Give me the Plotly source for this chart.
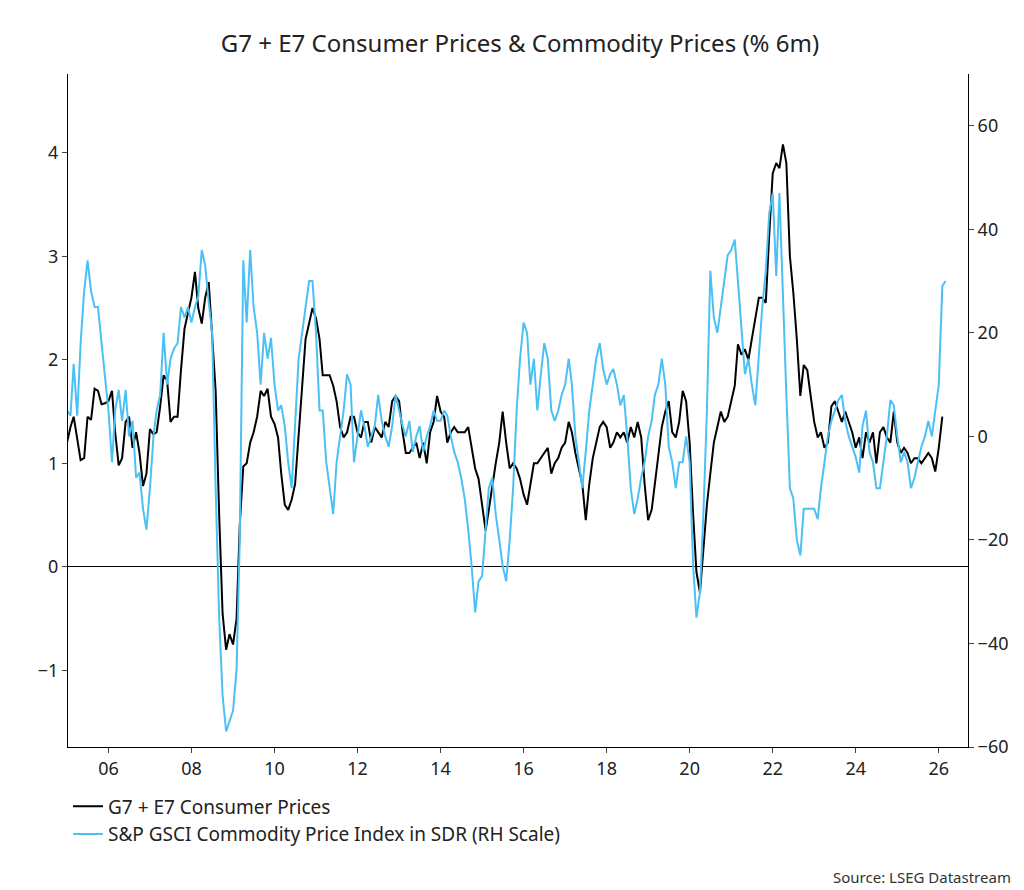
import plotly.graph_objects as go
import pandas as pd

cpi = [1.2,1.35,1.45,1.25,1.03,1.05,1.45,1.42,1.72,1.7,1.57,1.58,
1.6,1.7,1.3,0.98,1.05,1.4,1.45,1.15,1.3,1.1,0.78,0.9,
1.33,1.28,1.3,1.55,1.85,1.8,1.4,1.45,1.45,1.9,2.3,2.45,
2.6,2.85,2.5,2.35,2.6,2.75,2.2,1.7,0.5,-0.45,-0.8,-0.65,
-0.75,-0.5,0.4,0.97,1.0,1.2,1.3,1.45,1.7,1.65,1.72,1.45,
1.38,1.25,0.9,0.6,0.55,0.65,0.8,1.3,1.8,2.2,2.35,2.5,
2.4,2.2,1.85,1.85,1.85,1.75,1.6,1.35,1.25,1.3,1.45,1.45,
1.3,1.25,1.4,1.4,1.2,1.35,1.3,1.25,1.4,1.35,1.6,1.65,
1.6,1.3,1.1,1.1,1.15,1.2,1.05,1.2,1.0,1.3,1.4,1.65,
1.5,1.45,1.2,1.3,1.35,1.3,1.3,1.3,1.35,1.15,0.95,0.85,
0.6,0.35,0.55,0.8,1.0,1.2,1.5,1.2,0.95,1.0,0.95,0.85,
0.7,0.6,0.8,1.0,1.0,1.05,1.1,1.15,0.9,1.0,1.05,1.15,
1.2,1.4,1.3,1.1,0.95,0.8,0.45,0.8,1.05,1.2,1.35,1.4,
1.35,1.15,1.2,1.3,1.25,1.3,1.2,1.35,1.25,1.4,1.25,0.8,
0.45,0.55,0.8,1.1,1.35,1.5,1.6,1.3,1.25,1.4,1.7,1.6,
1.2,0.5,-0.05,-0.25,0.2,0.6,0.9,1.2,1.35,1.5,1.4,1.45,
1.6,1.75,2.15,2.05,2.1,2.0,2.2,2.4,2.6,2.6,2.55,3.2,
3.8,3.9,3.85,4.08,3.9,3.0,2.65,2.2,1.65,1.95,1.9,1.65,
1.4,1.25,1.3,1.15,1.2,1.55,1.6,1.5,1.4,1.5,1.4,1.3,
1.15,1.25,1.05,1.3,1.2,1.3,1.0,1.3,1.35,1.25,1.2,1.5,
1.2,1.1,1.15,1.1,1.0,1.05,1.05,1.0,1.05,1.1,1.05,0.92,
1.15,1.45]

gsci = [5,4,14,4,18,28,34,28,25,25,18,12,
5,-5,5,9,3,9,0,3,-8,-7,-14,-18,
-10,0,5,8,20,10,15,17,18,25,23,25,
22,25,27,36,33,26,20,-10,-35,-50,-57,-55,
-53,-45,-20,34,22,36,25,20,10,20,15,19,
10,5,6,2,-5,-10,2,15,20,25,30,30,
20,5,5,-5,-10,-15,-5,0,5,12,10,-5,
0,5,2,-2,0,2,8,3,0,-2,2,8,
5,2,0,3,-3,0,2,-3,0,2,5,3,
3,5,4,0,-3,-5,-8,-12,-18,-25,-34,-28,
-27,-18,-10,-8,-15,-20,-25,-28,-20,-10,5,15,
22,20,10,15,5,12,18,15,5,3,5,8,
10,15,10,0,-5,-10,-3,5,10,15,18,13,
10,12,13,10,6,8,0,-10,-15,-12,-8,-5,
0,3,8,10,15,10,-2,-5,-10,-5,-5,0,
-5,-25,-35,-30,-15,5,32,23,20,25,30,35,
36,38,30,20,12,15,10,6,15,25,32,43,
47,31,47,25,8,-10,-12,-20,-23,-14,-14,-14,
-14,-16,-10,-5,0,3,5,7,8,3,0,-2,
-4,-7,2,5,-3,-5,-10,-10,-5,0,7,6,
0,-5,-3,-5,-10,-8,-5,-2,0,3,0,5,
10,29,30]

dates_cpi = pd.date_range("2005-01-01", periods=len(cpi), freq="MS")
dates_gsci = pd.date_range("2005-01-01", periods=len(gsci), freq="MS")
tickyears = list(range(2006, 2027, 2))
ticklabels = [f"{y%100:02d}" for y in tickyears]

font = "Noto Sans"
fig = go.Figure()
fig.add_trace(go.Scatter(x=dates_gsci, y=gsci, name="S&P GSCI Commodity Price Index in SDR (RH Scale)",
                         line=dict(color="#4CC0F5", width=2), yaxis="y2"))
fig.add_trace(go.Scatter(x=dates_cpi, y=cpi, name="G7 + E7 Consumer Prices",
                         line=dict(color="black", width=2)))
fig.update_layout(
    width=1024, height=890, plot_bgcolor="white", paper_bgcolor="white",
    margin=dict(l=60, r=64, t=66, b=151),
    font=dict(family=font, size=18, color="#222"),
    title=dict(text="G7 + E7 Consumer Prices & Commodity Prices (% 6m)", x=0.5, xanchor="center", y=0.97, font=dict(size=24)),
    xaxis=dict(range=["2005-01-10", "2026-09-15"], tickvals=[f"{y}-01-01" for y in tickyears], ticktext=ticklabels,
               showgrid=False, showline=True, linecolor="black", ticks="outside", ticklen=5),
    yaxis=dict(range=[-1.74, 4.76], tickvals=[-1,0,1,2,3,4], showgrid=False, showline=True, linecolor="black",
               ticks="outside", zeroline=True, zerolinecolor="black", zerolinewidth=1),
    yaxis2=dict(range=[-60, 70], tickvals=[-60,-40,-20,0,20,40,60], overlaying="y", side="right", showgrid=False,
                showline=True, linecolor="black", ticks="outside", zeroline=False),
    legend=dict(x=0.0, y=-0.06, xanchor="left", yanchor="top", traceorder="reversed", font=dict(size=19), bgcolor="rgba(0,0,0,0)"),
    showlegend=True,
    annotations=[dict(text="Source: LSEG Datastream", xref="paper", yref="paper", x=1.05, y=-0.175, xanchor="right",
                      yanchor="top", showarrow=False, font=dict(size=15, color="#333"))],
)
fig.write_html("out.html")
